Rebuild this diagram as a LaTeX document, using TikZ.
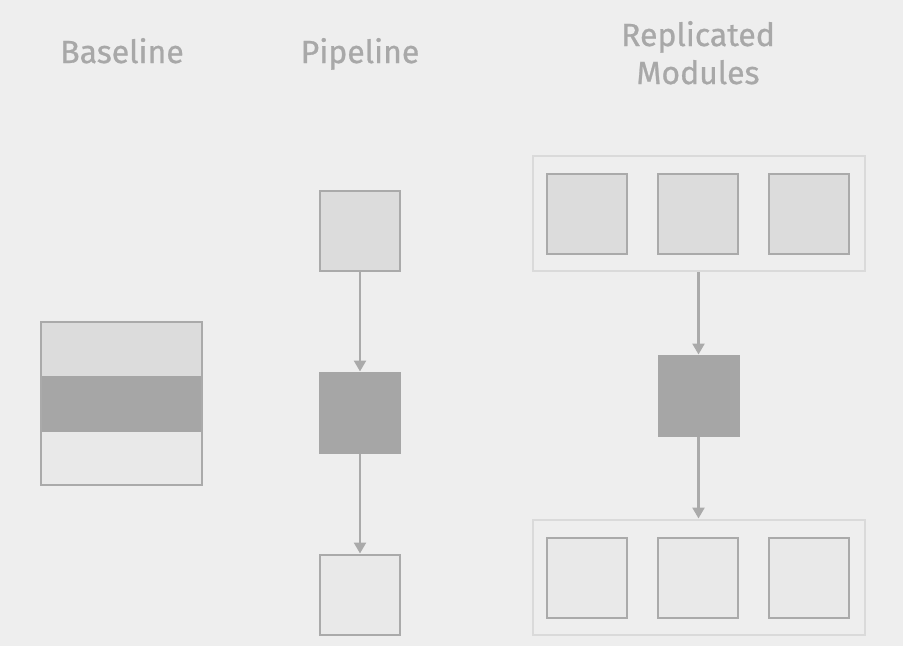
\documentclass[tikz,border=0pt]{standalone}
\usepackage{fontspec}
\setmainfont{Fira Sans}[FakeBold=0.8]
\usetikzlibrary{arrows.meta}
\definecolor{bgcol}{HTML}{EEEEEE}
\definecolor{txtcol}{HTML}{A8A8A8}
\definecolor{edgecol}{HTML}{AAAAAA}
\definecolor{grpcol}{HTML}{DADADA}
\definecolor{lightfill}{HTML}{DCDCDC}
\definecolor{darkfill}{HTML}{A6A6A6}
\definecolor{palefill}{HTML}{E9E9E9}
\begin{document}
\begin{tikzpicture}
  [x=1pt,y=-1pt,
   title/.style={text=txtcol,font=\fontsize{32}{38}\selectfont,align=center,anchor=base},
   block/.style={rectangle,draw=edgecol,line width=2pt,minimum size=80pt,inner sep=0pt},
   top/.style={block,fill=lightfill},
   mid/.style={block,fill=darkfill,draw=darkfill},
   low/.style={block,fill=palefill},
   band/.style={rectangle,inner sep=0pt,minimum width=161pt},
   group/.style={rectangle,draw=grpcol,line width=2pt,minimum width=332pt,minimum height=115pt,inner sep=0pt},
   flow/.style={draw=edgecol,line width=2.5pt,-{Triangle[length=11pt,width=12pt]}}]
  \fill[bgcol] (0,0) rectangle (903,646);
  \useasboundingbox (0,0) rectangle (903,646);

  \node[title] (t1) at (122,63) {Baseline};
  \node[title] (t2) at (360,63) {Pipeline};
  \node[title] (t3) at (698,84) {Replicated\\Modules};

  % baseline
  \node[band,fill=lightfill,minimum height=54pt] (b1) at (121.5,349) {};
  \node[band,fill=darkfill,minimum height=56pt] (b2) at (121.5,404) {};
  \node[band,fill=palefill,minimum height=53pt] (b3) at (121.5,458.5) {};
  \draw[edgecol,line width=1pt] (b1.north east) -- (b1.south east) (b1.north west) -- (b1.south west);
  \draw[edgecol,line width=1pt] (b3.north east) -- (b3.south east) (b3.north west) -- (b3.south west);
  \draw[edgecol,line width=2.5pt] (b1.north west) rectangle (b3.south east);

  % pipeline
  \node[top] (p1) at (360,230.5) {};
  \node[mid] (p2) at (360,412.5) {};
  \node[low] (p3) at (360,594.5) {};
  \foreach \from/\to in {p1/p2,p2/p3}
    \draw[flow] (\from) -- (\to);

  % replicated modules
  \node[group] (g1) at (699,213.5) {};
  \node[group] (g2) at (699,577) {};
  \foreach \x/\n in {587/1,698/2,809/3} {
    \node[top] (r\n) at (\x,213.5) {};
    \node[low] (s\n) at (\x,577.5) {};
  }
  \node[mid] (m) at (698.5,395.5) {};
  \draw[flow] (g1.south -| m) -- (m.north);
  \draw[flow] (m.south) -- (g2.north -| m);

\end{tikzpicture}
\end{document}
